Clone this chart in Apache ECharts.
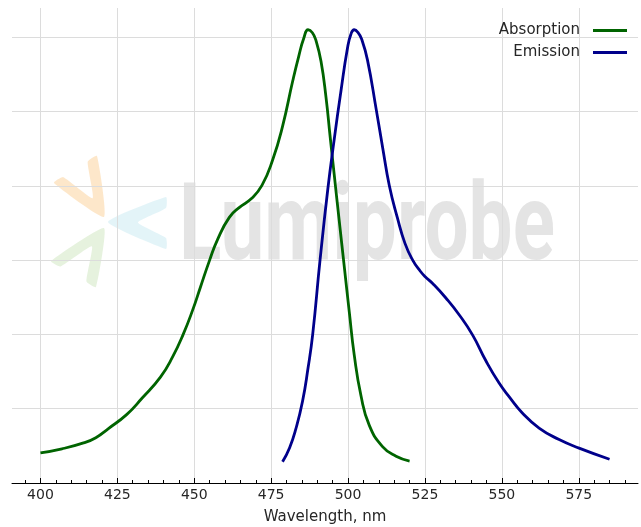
<!DOCTYPE html>
<html>
<head>
<meta charset="utf-8">
<script src="https://cdn.jsdelivr.net/npm/echarts@6/dist/echarts.min.js"></script>
<style>
html,body{margin:0;padding:0;background:#fff;}
#chart{width:641px;height:527px;}
</style>
</head>
<body>
<div id="chart"></div>
<script>
// ---- data ----
const absWavelength = [400, 407, 414, 418, 422, 428, 433, 439, 443, 446.4, 449.5, 452, 455, 457.6, 461.4, 464.7, 468.5, 472.0, 475.5, 478.7, 482.0, 484.0, 485.6, 487.0, 488.4, 489.6, 491.2, 492.8, 494.2, 495.5, 497.2, 498.8, 500.4, 502.0, 504.2, 506.9, 511.2, 515.6, 520];
const absValue      = [0.081, 0.092, 0.108, 0.122, 0.146, 0.184, 0.228, 0.285, 0.340, 0.400, 0.466, 0.527, 0.600, 0.656, 0.715, 0.742, 0.765, 0.801, 0.870, 0.960, 1.082, 1.150, 1.197, 1.220, 1.212, 1.190, 1.135, 1.040, 0.930, 0.830, 0.700, 0.580, 0.460, 0.345, 0.235, 0.155, 0.098, 0.072, 0.059];

const emWavelength = [478.7, 481.0, 483.0, 485.2, 487.0, 488.5, 490.9, 493.4, 495.5, 497.6, 499.8, 501.0, 502.0, 503.2, 504.4, 506.3, 509.2, 511.3, 513.4, 516.0, 518.5, 521.0, 523.5, 525.0, 527.5, 531.8, 536.1, 540.5, 544.8, 549.1, 552.4, 556.5, 562.1, 568.6, 575.1, 585.0];
const emValue      = [0.057, 0.095, 0.145, 0.220, 0.310, 0.400, 0.601, 0.790, 0.925, 1.050, 1.170, 1.210, 1.220, 1.213, 1.195, 1.139, 1.003, 0.900, 0.801, 0.715, 0.645, 0.600, 0.570, 0.556, 0.537, 0.498, 0.453, 0.398, 0.329, 0.269, 0.232, 0.190, 0.148, 0.117, 0.094, 0.064];

const seriesNames = ['Absorption', 'Emission'];
const majorTicks = [400, 425, 450, 475, 500, 525, 550, 575];
const minorTicks = [395, 405, 410, 415, 420, 430, 435, 440, 445, 455, 460, 465, 470, 480, 485, 490, 495, 505, 510, 515, 520, 530, 535, 540, 545, 555, 560, 565, 570, 580, 585, 590];
const xName = 'Wavelength, nm';
const watermarkText = 'Lumiprobe';

// ---- helpers ----
function zip(a, b) { return a.map((v, i) => [v, b[i]]); }
function chevron(V, T1, T2, d, w) {
  const M = [(T1[0] + T2[0]) / 2, (T1[1] + T2[1]) / 2];
  const unit = (p, q) => { const dx = q[0] - p[0], dy = q[1] - p[1]; const l = Math.hypot(dx, dy); return [dx / l, dy / l]; };
  const u = unit(V, M);
  const N = [V[0] + d * u[0], V[1] + d * u[1]];
  const u1 = unit(T1, M), u2 = unit(T2, M);
  const T1i = [T1[0] + w * u1[0], T1[1] + w * u1[1]];
  const T2i = [T2[0] + w * u2[0], T2[1] + w * u2[1]];
  return [T1, V, T2, T2i, N, T1i];
}

const FONT = 'DejaVu Sans';
const TEXT = '#262626';
const GRID = '#dcdcdc';

const chart = echarts.init(document.getElementById('chart'), null, { renderer: 'canvas' });

const option = {
  animation: false,
  backgroundColor: '#ffffff',
  grid: { left: 12, right: 3, top: 8, bottom: 44, containLabel: false, outerBoundsMode: 'none' },
  graphic: [
    {
      type: 'group', z: 1, silent: true,
      children: [
        { type: 'polygon', shape: { points: chevron([104, 217], [54, 183], [97, 156], 22, 11), smooth: 0.15 }, style: { fill: 'rgba(247,176,80,0.30)' } },
        { type: 'polygon', shape: { points: chevron([108, 222], [166, 197], [166, 249], 30, 11), smooth: 0.15 }, style: { fill: 'rgba(100,195,215,0.18)' } },
        { type: 'polygon', shape: { points: chevron([104, 228], [51, 261], [96, 287], 22, 11), smooth: 0.15 }, style: { fill: 'rgba(130,190,90,0.20)' } },
        { type: 'text', x: 179, y: 178, scaleX: 0.725, style: { text: watermarkText, font: 'bold 108px Roboto', fill: 'rgba(170,170,170,0.32)', textAlign: 'left', textVerticalAlign: 'top' } }
      ]
    }
  ],
  legend: {
    data: seriesNames,
    orient: 'vertical',
    right: 9,
    top: 18,
    align: 'right',
    icon: 'rect',
    itemWidth: 34,
    itemHeight: 3,
    itemGap: 7,
    selectedMode: false,
    textStyle: { fontFamily: FONT, fontSize: 15, color: TEXT, padding: [0, 8, 0, 0] }
  },
  xAxis: [
    {
      type: 'value',
      min: 390.75,
      max: 594.25,
      name: xName,
      nameLocation: 'middle',
      nameGap: 27,
      nameTextStyle: { fontFamily: FONT, fontSize: 15, color: TEXT },
      axisLine: { show: true, lineStyle: { color: '#000', width: 1 } },
      axisTick: { show: true, inside: true, length: 5, customValues: majorTicks, lineStyle: { color: '#000', width: 1 } },
      axisLabel: { show: true, customValues: majorTicks, margin: 5, fontFamily: FONT, fontSize: 14, color: TEXT },
      splitLine: { show: true, lineStyle: { color: GRID, width: 1 } }
    },
    {
      type: 'value',
      position: 'bottom',
      min: 390.75,
      max: 594.25,
      axisLine: { show: false },
      axisTick: { show: true, inside: true, length: 3, customValues: minorTicks, lineStyle: { color: '#000', width: 1 } },
      axisLabel: { show: false },
      splitLine: { show: false }
    }
  ],
  yAxis: {
    type: 'value',
    min: 0,
    max: 1.2786,
    interval: 0.2,
    axisLine: { show: false },
    axisTick: { show: false },
    axisLabel: { show: false },
    splitLine: { show: true, showMinLine: false, showMaxLine: false, lineStyle: { color: GRID, width: 1 } }
  },
  series: [
    {
      name: seriesNames[0], type: 'line', xAxisIndex: 0, data: zip(absWavelength, absValue),
      showSymbol: false, symbol: 'none', smooth: 0.5, z: 3,
      itemStyle: { color: '#006400' },
      lineStyle: { color: '#006400', width: 2.8 }
    },
    {
      name: seriesNames[1], type: 'line', xAxisIndex: 0, data: zip(emWavelength, emValue),
      showSymbol: false, symbol: 'none', smooth: 0.5, z: 3,
      itemStyle: { color: '#00008B' },
      lineStyle: { color: '#00008B', width: 2.8 }
    }
  ]
};
chart.setOption(option);
</script>
</body>
</html>
